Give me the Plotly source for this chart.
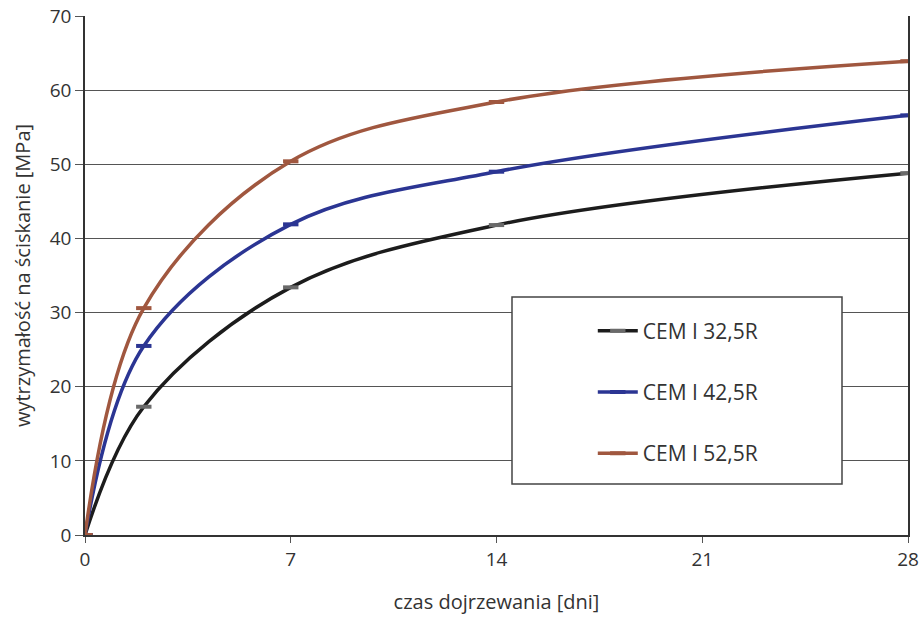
import plotly.graph_objects as go

days = [0, 2, 7, 14, 28]
cem32 = [0, 17.3, 33.4, 41.8, 48.8]
cem42 = [0, 25.5, 41.9, 49.0, 56.6]
cem52 = [0, 30.6, 50.4, 58.4, 63.9]
names = ["CEM I 32,5R", "CEM I 42,5R", "CEM I 52,5R"]
line_colors = ["#1c1c1c", "#2b3593", "#a0573f"]
marker_colors = ["#6a6a6a", "#2b3593", "#a0573f"]
x_ticks = [0, 7, 14, 21, 28]
y_ticks = [0, 10, 20, 30, 40, 50, 60, 70]

fig = go.Figure()
for i, (name, vals) in enumerate(zip(names, [cem32, cem42, cem52])):
    fig.add_trace(go.Scatter(
        x=days, y=vals, name=name, mode="lines+markers",
        line=dict(color=line_colors[i], width=3.5, shape="spline", smoothing=1.0),
        marker=dict(symbol="line-ew", size=11, color=marker_colors[i],
                    line=dict(color=marker_colors[i], width=4)),
        legendgroup=name,
    ))

font_family = "'Open Sans', Lato, sans-serif"
fig.update_layout(
    width=920, height=618,
    margin=dict(l=85, r=12, t=16, b=83),
    paper_bgcolor="white", plot_bgcolor="white",
    font=dict(family=font_family, size=19, color="#333333"),
    showlegend=True,
    legend=dict(x=0.617, y=0.4326, xanchor="left", yanchor="top",
                bgcolor="rgba(0,0,0,0)", borderwidth=0,
                font=dict(size=21, color="#333333"),
                tracegroupgap=31, itemwidth=40),
    xaxis=dict(range=[0, 28], tickvals=x_ticks, showgrid=False,
               showline=True, linecolor="#333333", linewidth=1.5,
               ticks="outside", ticklen=6, tickcolor="#555555",
               zeroline=False, automargin=False,
               tickfont=dict(size=19),
               title=dict(text="czas dojrzewania [dni]", font=dict(size=20, color="#333333"), standoff=24)),
    yaxis=dict(range=[0, 70], tickvals=y_ticks, showgrid=True,
               gridcolor="#555555", gridwidth=1.2,
               showline=True, linecolor="#333333", linewidth=1.5, mirror=True,
               ticks="outside", ticklen=8, tickcolor="#555555",
               zeroline=False, automargin=False,
               tickfont=dict(size=19),
               title=dict(text="wytrzymałość na ściskanie [MPa]", font=dict(size=20, color="#333333"), standoff=14)),
    shapes=[dict(type="rect", xref="paper", yref="paper",
                 x0=(512-85)/823, x1=(842-85)/823,
                 y0=(535-484)/519, y1=(535-297)/519,
                 line=dict(color="#444444", width=1.5), fillcolor="white", layer="above")],
)
fig.write_html("out.html")
